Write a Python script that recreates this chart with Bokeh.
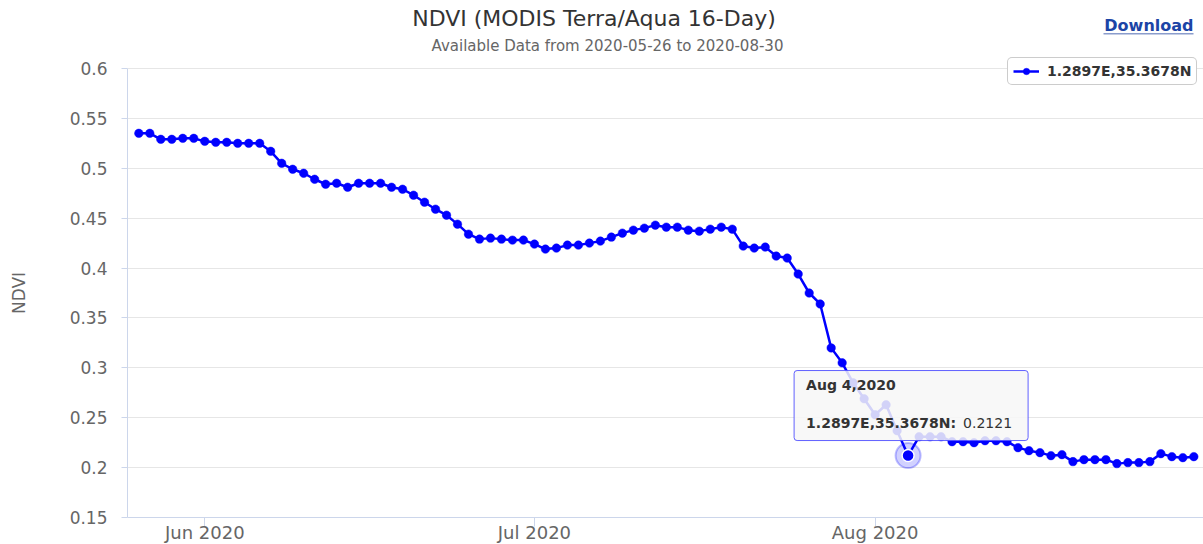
import math
import pandas as pd
from bokeh.plotting import figure
from bokeh.models import (Range1d, FixedTicker, DatetimeTickFormatter, CustomJSTickFormatter,
                          Label, BoxAnnotation, Legend, LegendItem, ColumnDataSource)
from bokeh.embed import file_html
from bokeh.resources import INLINE

# ---------------- data ----------------
START_DATE = "2020-05-26"
END_DATE = "2020-08-30"
ndvi = [
    0.535, 0.535, 0.529, 0.529, 0.530, 0.530, 0.527, 0.526, 0.526, 0.525, 0.525, 0.525,
    0.517, 0.505, 0.499, 0.495, 0.489, 0.484, 0.485, 0.481, 0.485, 0.485, 0.485, 0.481, 0.479,
    0.473, 0.466, 0.459, 0.453, 0.444, 0.434, 0.429, 0.430, 0.429, 0.428, 0.428,
    0.424, 0.419, 0.420, 0.423, 0.423, 0.425, 0.427, 0.431, 0.435, 0.438, 0.440, 0.443, 0.441,
    0.441, 0.438, 0.437, 0.439, 0.441, 0.439,
    0.422, 0.420, 0.421, 0.412, 0.410, 0.394, 0.375, 0.364, 0.320, 0.305,
    0.285, 0.269, 0.253, 0.263, 0.237, 0.2121, 0.231, 0.231, 0.231,
    0.226, 0.226, 0.225, 0.227, 0.227, 0.226, 0.220, 0.217, 0.215, 0.212, 0.213,
    0.206, 0.208, 0.208, 0.208, 0.204, 0.205, 0.205, 0.206, 0.214, 0.211, 0.210, 0.211,
]
series_name = "1.2897E,35.3678N"
highlight_date = "2020-08-04"
y_ticks = [0.15, 0.2, 0.25, 0.3, 0.35, 0.4, 0.45, 0.5, 0.55, 0.6]
month_ticks = ["2020-06-01", "2020-07-01", "2020-08-01"]
title_text = "NDVI (MODIS Terra/Aqua 16-Day)"
subtitle_text = f"Available Data from {START_DATE} to {END_DATE}"
y_label = "NDVI"
link_text = "Download"

# ---------------- setup ----------------
dates = pd.date_range(START_DATE, END_DATE, freq="D")
FONT = "DejaVu Sans"
BLUE = "#0000ff"
DAY = 86400000.0
PLOT_W, PLOT_H = 1076, 449      # size of the 0.15..0.6 data area in px
HEADER_H = 68                   # space above the data area for titles / legend
LEFT_W, BOTTOM_H = 127, 27


def ms(t):
    return pd.Timestamp(t).value / 1e6


x0 = ms(dates[0]) - 1.03 * DAY
x1 = ms(dates[-1]) + 0.88 * DAY
y0, y1 = y_ticks[0], y_ticks[-1]
px_per_unit = PLOT_H / (y1 - y0)
px_per_ms = PLOT_W / (x1 - x0)
y_top = y1 + HEADER_H / px_per_unit   # frame extends above the data area for the header

p = figure(frame_width=PLOT_W, frame_height=PLOT_H + HEADER_H, x_axis_type="datetime",
           x_range=Range1d(x0, x1), y_range=Range1d(y0, y_top),
           output_backend="svg", toolbar_location=None,
           min_border_left=LEFT_W, min_border_right=0, min_border_top=0,
           min_border_bottom=BOTTOM_H)
p.outline_line_color = None
p.background_fill_color = "white"
p.border_fill_color = "white"

# x axis
p.xaxis.ticker = FixedTicker(ticks=[ms(t) for t in month_ticks])
p.xaxis.formatter = DatetimeTickFormatter(days="%b %Y", months="%b %Y", years="%b %Y",
                                          hours="%b %Y", hourmin="%b %Y")
p.xaxis.axis_line_color = "#ccd6eb"
p.xaxis.major_tick_line_color = "#ccd6eb"
p.xaxis.major_tick_out = 9
p.xaxis.major_tick_in = 0
p.xaxis.minor_tick_line_color = None
p.xaxis.major_label_standoff = -5
p.xaxis.major_label_text_font = FONT
p.xaxis.major_label_text_font_size = "18px"
p.xaxis.major_label_text_color = "#666666"

# y axis
p.yaxis.ticker = FixedTicker(ticks=y_ticks)
p.yaxis.formatter = CustomJSTickFormatter(code="return String(Number(tick.toFixed(2)))")
p.yaxis.bounds = (y0, y1)
p.yaxis.axis_line_color = "#ccd6eb"
p.yaxis.major_tick_line_color = "#ccd6eb"
p.yaxis.major_tick_out = 6
p.yaxis.major_tick_in = 0
p.yaxis.minor_tick_line_color = None
p.yaxis.major_label_standoff = 14
p.yaxis.major_label_text_font = FONT
p.yaxis.major_label_text_font_size = "17px"
p.yaxis.major_label_text_color = "#666666"

p.xgrid.visible = False
p.ygrid.ticker = FixedTicker(ticks=y_ticks)
p.ygrid.grid_line_color = "#e6e6e6"

# y axis title (placed in the left panel so it is not clipped by the frame)
p.add_layout(Label(x=x0, y=(y0 + y1) / 2, x_offset=-109, text=y_label, angle=math.pi / 2,
                   text_font=FONT, text_font_size="17px", text_color="#666666",
                   text_align="center", text_baseline="middle"), "left")

# series
src = ColumnDataSource(dict(date=dates, ndvi=ndvi))
line_r = p.line("date", "ndvi", source=src, line_color=BLUE, line_width=2.5)
pts_r = p.scatter("date", "ndvi", source=src, size=8.5, fill_color=BLUE, line_color=BLUE,
                  line_width=0.5)

# highlighted (hovered) point
hi = list(dates).index(pd.Timestamp(highlight_date))
hx, hy = ms(dates[hi]), ndvi[hi]
p.scatter(x=[dates[hi]], y=[hy], size=25, fill_color=BLUE, fill_alpha=0.18,
          line_color=BLUE, line_alpha=0.25, line_width=2)
p.scatter(x=[dates[hi]], y=[hy], size=12, fill_color=BLUE, line_color="white", line_width=1.5)

# tooltip
box = BoxAnnotation(left=hx - 114 / px_per_ms, right=hx + 120 / px_per_ms,
                    bottom=hy + 15 / px_per_unit, top=hy + 85 / px_per_unit,
                    fill_color="#f7f7f7", fill_alpha=0.85,
                    line_color="#5050ff", line_width=1, line_alpha=0.9)
try:
    box.border_radius = 3
except Exception:
    pass
p.add_layout(box)

d = dates[hi]
tip_date = f"{d:%b} {d.day},{d.year}"
p.add_layout(Label(x=hx, y=hy, x_offset=-102, y_offset=71, text=tip_date,
                   text_font=FONT, text_font_size="14px", text_font_style="bold",
                   text_color="#333333", text_baseline="middle", text_align="left"))
p.add_layout(Label(x=hx, y=hy, x_offset=-102, y_offset=33, text=series_name + ":",
                   text_font=FONT, text_font_size="14px", text_font_style="bold",
                   text_color="#333333", text_baseline="middle", text_align="left"))
p.add_layout(Label(x=hx, y=hy, x_offset=55, y_offset=33, text=f"{hy:.4f}",
                   text_font=FONT, text_font_size="14px", text_font_style="normal",
                   text_color="#333333", text_baseline="middle", text_align="left"))

# titles and link (inside the header part of the frame)
p.add_layout(Label(x=x0, y=y1, x_offset=466.5, y_offset=50, text=title_text,
                   text_font=FONT, text_font_size="22px", text_color="#333333",
                   text_align="center", text_baseline="middle"))
p.add_layout(Label(x=x0, y=y1, x_offset=480, y_offset=23, text=subtitle_text,
                   text_font=FONT, text_font_size="15px", text_color="#666666",
                   text_align="center", text_baseline="middle"))
p.add_layout(Label(x=x1, y=y1, x_offset=-10, y_offset=43, text=link_text,
                   text_font=FONT, text_font_size="16px", text_font_style="bold",
                   text_color="#1c44a6", text_align="right", text_baseline="middle"))
# underline of the link
p.add_layout(BoxAnnotation(left=x1 - 100 / px_per_ms, right=x1 - 10 / px_per_ms,
                           bottom=y1 + 34 / px_per_unit, top=y1 + 35.5 / px_per_unit,
                           fill_color="#8a9ccc", fill_alpha=1.0, line_color=None))

# legend
legend = Legend(items=[LegendItem(label=series_name, renderers=[line_r, pts_r])],
                location=(880, 432), orientation="vertical",
                label_text_font=FONT, label_text_font_size="14px",
                label_text_font_style="bold", label_text_color="#333333",
                border_line_color="#999999", border_line_width=1,
                background_fill_color="white", background_fill_alpha=1.0,
                padding=5, margin=0, spacing=0, label_standoff=8,
                glyph_width=26, glyph_height=16)
try:
    legend.border_radius = 5
except Exception:
    pass
p.add_layout(legend)

open("out.html", "w").write(file_html(p, INLINE))
